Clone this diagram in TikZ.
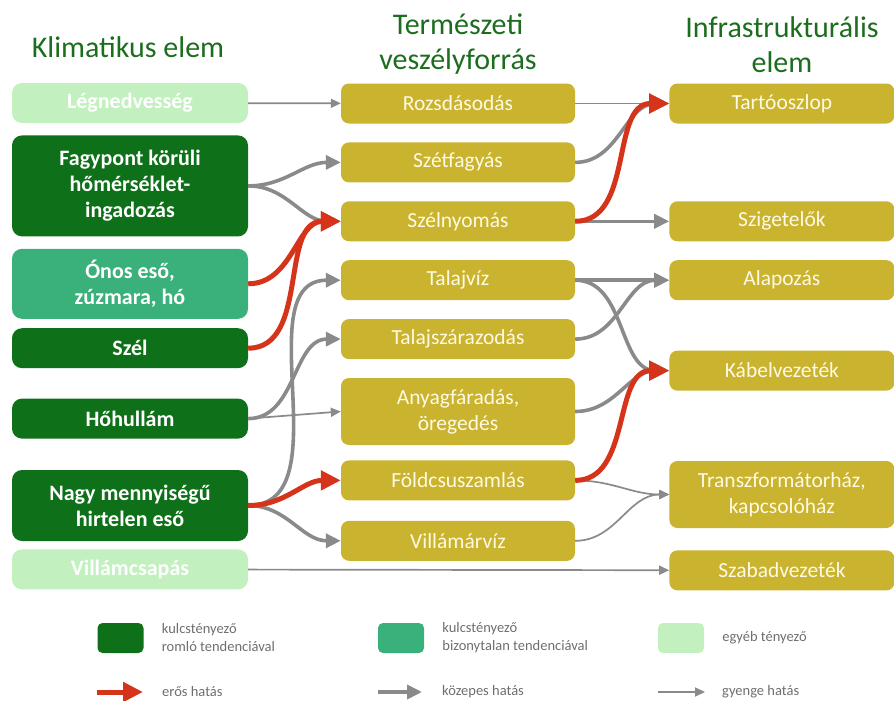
\documentclass[tikz,border=0pt]{standalone}
\usepackage{fontspec}
\setmainfont{Carlito}
\usetikzlibrary{positioning,arrows.meta}
\definecolor{keydark}{RGB}{14,112,24}
\definecolor{keymid}{RGB}{58,176,122}
\definecolor{otherlight}{RGB}{194,240,190}
\definecolor{hazard}{RGB}{202,179,46}
\definecolor{hazardtext}{RGB}{255,250,228}
\definecolor{titlegreen}{RGB}{28,110,30}
\definecolor{strongred}{RGB}{214,52,26}
\definecolor{midgray}{RGB}{138,138,138}
\definecolor{legendtext}{RGB}{110,110,110}

\begin{document}
\begin{tikzpicture}[
    climate/.style={rectangle, rounded corners=10pt, fill=keydark, text=white,
                    minimum width=236pt, minimum height=40pt, align=center,
                    inner sep=0pt, font=\fontsize{22}{26}\selectfont\bfseries},
    hazardbox/.style={rectangle, rounded corners=8pt, fill=hazard, text=hazardtext,
                      minimum width=234pt, minimum height=40pt, align=center,
                      inner sep=0pt, font=\fontsize{21.5}{26}\selectfont},
    assetbox/.style={hazardbox, minimum width=225pt},
    coltitle/.style={text=titlegreen, align=center, inner sep=0pt,
                     font=\fontsize{30}{35}\selectfont},
    legbox/.style={rectangle, rounded corners=5pt, minimum width=46pt,
                   minimum height=30pt, inner sep=0pt},
    legtext/.style={anchor=west, align=left, inner sep=0pt, text=legendtext,
                    font=\fontsize{14.5}{18}\selectfont},
    strongarr/.style={-{Triangle[length=20pt,width=19pt]}, line width=5pt, strongred},
    midarr/.style={-{Triangle[length=15pt,width=14pt]}, line width=3.6pt, midgray},
    weakarr/.style={-{Triangle[length=10pt,width=9pt]}, line width=1.7pt, midgray}
]
\useasboundingbox (0,0) rectangle (894pt,-701pt);

\node[coltitle] (tklim) at (128pt,-47pt) {Klimatikus elem};
\node[coltitle] (tterm) at (458pt,-44pt) {Természeti\\veszélyforrás};
\node[coltitle] (tinfra) at (782pt,-45pt) {Infrastrukturális\\elem};

\node[climate, fill=otherlight] (legned) at (130pt,-103pt) {Légnedvesség};
\node[climate, minimum height=101pt, below=12pt of legned] (fagy) {Fagypont körüli\\hőmérséklet-\\ingadozás};
\node[climate, fill=keymid, minimum height=70pt, below=12pt of fagy] (onos) {Ónos eső,\\zúzmara, hó};
\node[climate, below=9pt of onos] (szel) {Szél};
\node[climate, below=30pt of szel] (hohull) {Hőhullám};
\node[climate, minimum height=71pt, below=31pt of hohull] (nagy) {Nagy mennyiségű\\hirtelen eső};
\node[climate, fill=otherlight, below=8pt of nagy] (villcs) {Villámcsapás};

\node[hazardbox] (rozsda) at (458pt,-103.5pt) {Rozsdásodás};
\node[hazardbox, below=18.5pt of rozsda] (szetf) {Szétfagyás};
\node[hazardbox, below=18.5pt of szetf] (szeln) {Szélnyomás};
\node[hazardbox, below=18.5pt of szeln] (talajv) {Talajvíz};
\node[hazardbox, below=18.5pt of talajv] (talajsz) {Talajszárazodás};
\node[hazardbox, minimum height=67pt, below=18.5pt of talajsz] (anyag) {Anyagfáradás,\\öregedés};
\node[hazardbox, below=15pt of anyag] (foldcs) {Földcsuszamlás};
\node[hazardbox, below=20pt of foldcs] (villam) {Villámárvíz};

\node[assetbox, right=94pt of rozsda] (tarto) {Tartóoszlop};
\node[assetbox, right=94pt of szeln] (sziget) {Szigetelők};
\node[assetbox, right=94pt of talajv] (alap) {Alapozás};
\node[assetbox, below=50pt of alap] (kabel) {Kábelvezeték};
\node[assetbox, minimum height=67pt, below=70pt of kabel] (transz) {Transzformátorház,\\kapcsolóház};
\node[assetbox, below=22pt of transz] (szabad) {Szabadvezeték};

% weak links
\draw[weakarr] (legned) -- (rozsda);
\draw[weakarr] (hohull.east) -- (anyag.west);
\draw[weakarr] (villcs) -- (szabad);
\draw[weakarr] (rozsda) -- (tarto);
\draw[weakarr] (foldcs.east) to[out=0,in=180] (transz.west);
\draw[weakarr] (villam.east) to[out=0,in=180] (transz.west);

% medium links
\draw[midarr] (fagy.east) to[out=0,in=180] (szetf.west);
\draw[midarr] (fagy.east) to[out=0,in=180] (szeln.west);
\draw[midarr] (hohull.east) to[out=0,in=180] (talajsz.west);
\draw[midarr] (nagy.east) to[out=0,in=180] (talajv.west);
\draw[midarr] (nagy.east) to[out=0,in=180] (villam.west);
\draw[midarr] (szetf.east) to[out=0,in=180] (tarto.west);
\draw[midarr] (szeln) -- (sziget);
\draw[midarr] (talajv) -- (alap);
\draw[midarr] (talajv.east) to[out=0,in=180] (kabel.west);
\draw[midarr] (talajsz.east) to[out=0,in=180] (alap.west);
\draw[midarr] (anyag.east) to[out=0,in=180] (kabel.west);

% strong links
\draw[strongarr] (onos.east) to[out=0,in=180] (szeln.west);
\draw[strongarr] (szel.east) to[out=0,in=180] (szeln.west);
\draw[strongarr] (nagy.east) to[out=0,in=180] (foldcs.west);
\draw[strongarr] (szeln.east) to[out=0,in=180] (tarto.west);
\draw[strongarr] (foldcs.east) to[out=0,in=180] (kabel.west);

% legend
\node[legbox, fill=keydark] (lkey1) at (120.5pt,-638pt) {};
\node[legtext, right=18pt of lkey1] (tkey1) {kulcstényező\\romló tendenciával};
\node[legbox, fill=keymid] (lkey2) at (401pt,-638pt) {};
\node[legtext, right=18pt of lkey2] (tkey2) {kulcstényező\\bizonytalan tendenciával};
\node[legbox, fill=otherlight] (lkey3) at (681pt,-638pt) {};
\node[legtext, right=18pt of lkey3] (tkey3) {egyéb tényező};

\coordinate (la1) at (97pt,-692pt);
\coordinate (lb1) at (143pt,-692pt);
\coordinate (la2) at (378pt,-692pt);
\coordinate (lb2) at (422pt,-692pt);
\coordinate (la3) at (658pt,-692pt);
\coordinate (lb3) at (705pt,-692pt);
\draw[strongarr] (la1) -- (lb1);
\draw[midarr] (la2) -- (lb2);
\draw[weakarr] (la3) -- (lb3);
\node[legtext] (tarr1) at (162pt,-692pt) {erős hatás};
\node[legtext] (tarr2) at (442pt,-692pt) {közepes hatás};
\node[legtext] (tarr3) at (722pt,-692pt) {gyenge hatás};
\end{tikzpicture}
\end{document}
